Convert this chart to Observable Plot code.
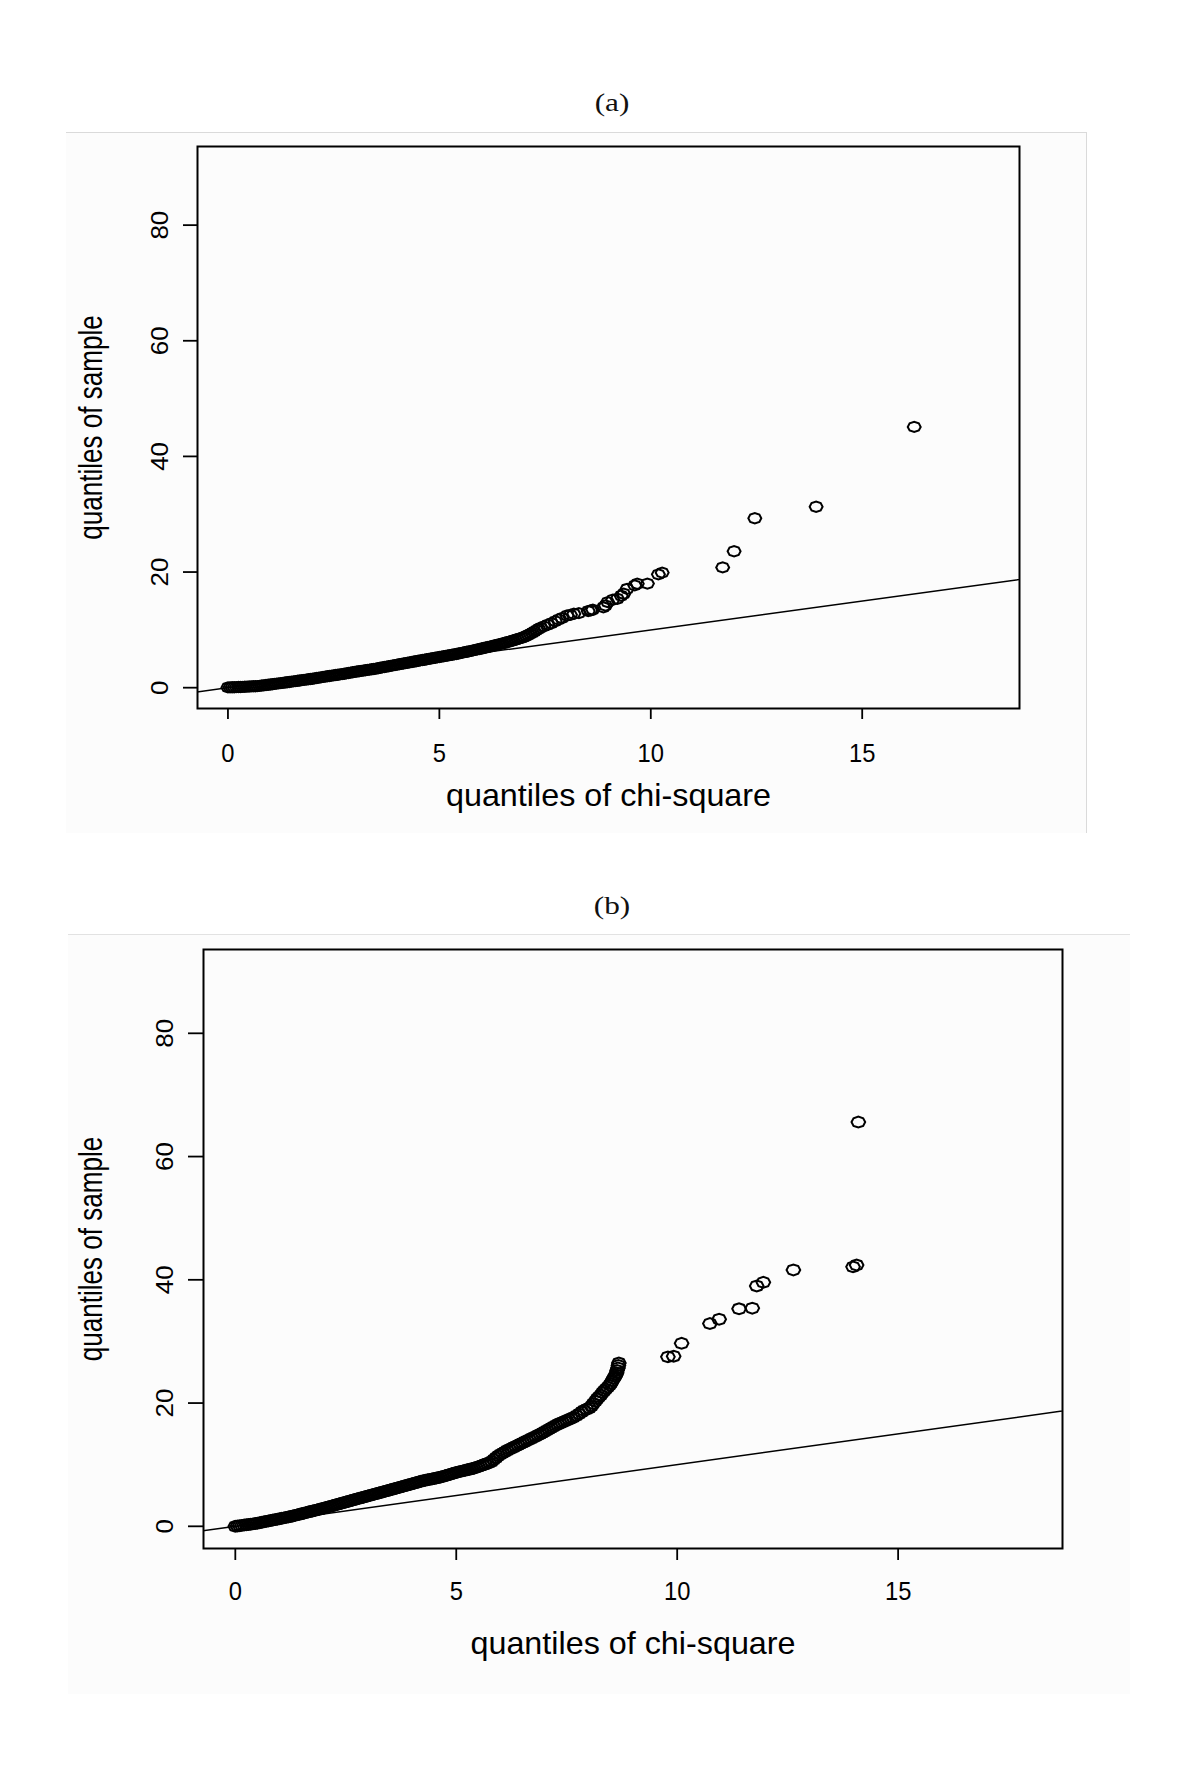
<!DOCTYPE html>
<html><head><meta charset="utf-8">
<script src="https://cdn.jsdelivr.net/npm/d3@7"></script>
<script src="https://cdn.jsdelivr.net/npm/@observablehq/plot@0.6"></script>
<style>
html,body{margin:0;padding:0;background:#fff}
body{width:1200px;height:1789px;position:relative;overflow:hidden}
.frame{position:absolute;background:#fcfcfc;box-sizing:border-box}
.ttl{position:absolute;font-family:"Liberation Serif","Times New Roman",serif;font-size:25px;line-height:25px;color:#111;width:80px;margin-left:-40px;text-align:center;transform:scaleX(1.25)}
.wrap{position:absolute;left:0}
.wrap svg{display:block}
</style></head><body>
<div class="ttl" style="left:612px;top:90px">(a)</div>
<div class="frame" style="left:66px;top:132px;width:1021px;height:701px;border-top:1px solid #dadada;border-right:1px solid #dadada"></div>
<div class="wrap" id="pa" style="top:132px"></div>
<div class="ttl" style="left:612px;top:893px">(b)</div>
<div class="frame" style="left:68px;top:934px;width:1062px;height:760px;border-top:1px solid #e2e2e2"></div>
<div class="wrap" id="pb" style="top:934px"></div>
<script>
// ---------- data ----------
const xTicks = [0, 5, 10, 15];
const yTicks = [0, 20, 40, 60, 80];
const xTitle = "quantiles of chi-square";
const yTitle = "quantiles of sample";
const refLine = [-2, 20]; // reference line y = x

// panel (a)
const aX = [0.00,0.05,0.10,0.15,0.20,0.25,0.30,0.35,0.40,0.45,0.50,0.55,0.60,0.65,0.70,0.75,0.80,0.85,0.90,0.95,
1.00,1.05,1.10,1.15,1.20,1.25,1.30,1.35,1.40,1.45,1.50,1.55,1.60,1.65,1.70,1.75,1.80,1.85,1.90,1.95,
2.00,2.05,2.10,2.15,2.20,2.25,2.30,2.35,2.40,2.45,2.50,2.55,2.60,2.65,2.70,2.75,2.80,2.85,2.90,2.95,
3.00,3.05,3.10,3.15,3.20,3.25,3.30,3.35,3.40,3.45,3.50,3.55,3.60,3.65,3.70,3.75,3.80,3.85,3.90,3.95,
4.00,4.05,4.10,4.15,4.20,4.25,4.30,4.35,4.40,4.45,4.50,4.55,4.60,4.65,4.70,4.75,4.80,4.85,4.90,4.95,
5.00,5.05,5.10,5.15,5.20,5.25,5.30,5.35,5.40,5.45,5.50,5.55,5.60,5.65,5.70,5.75,5.80,5.85,5.90,5.95,
6.00,6.05,6.10,6.15,6.20,6.25,6.30,6.35,6.40,6.45,6.50,6.55,6.60,6.65,6.70,6.75,6.80,6.85,6.90,6.95,
7.00,7.05,7.10,7.15,7.20,7.25,7.30,7.35,7.40,7.47,7.56,7.65,7.74,
7.82,7.90,8.02,8.10,8.18,8.30,8.52,8.58,8.63,8.88,8.93,8.98,9.10,9.21,9.30,9.36,9.44,9.62,9.68,9.92,10.18,10.27,
11.70,11.97,12.46,13.91,16.23];
const aY = [0.05,0.06,0.07,0.08,0.10,0.11,0.12,0.14,0.16,0.18,0.20,0.22,0.24,0.25,0.28,0.32,0.37,0.41,0.46,0.50,
0.55,0.60,0.65,0.70,0.75,0.79,0.84,0.89,0.94,0.99,1.04,1.09,1.14,1.19,1.24,1.30,1.35,1.40,1.45,1.50,
1.55,1.61,1.67,1.73,1.79,1.86,1.91,1.97,2.02,2.08,2.13,2.19,2.24,2.30,2.35,2.41,2.48,2.54,2.60,2.66,
2.73,2.79,2.85,2.90,2.96,3.02,3.07,3.13,3.19,3.24,3.30,3.37,3.44,3.51,3.57,3.64,3.71,3.78,3.85,3.91,
3.98,4.05,4.11,4.18,4.25,4.32,4.38,4.45,4.52,4.58,4.65,4.72,4.78,4.84,4.91,4.98,5.04,5.11,5.17,5.24,
5.30,5.37,5.43,5.50,5.57,5.63,5.70,5.77,5.83,5.91,5.98,6.06,6.14,6.22,6.29,6.37,6.45,6.53,6.62,6.70,
6.78,6.86,6.95,7.03,7.11,7.21,7.30,7.39,7.49,7.58,7.67,7.77,7.86,7.97,8.08,8.19,8.30,8.41,8.52,8.63,
8.74,8.93,9.12,9.31,9.50,9.73,9.95,10.18,10.39,10.60,10.88,11.14,11.50,
11.80,12.05,12.49,12.60,12.78,12.90,13.25,13.36,13.50,13.90,14.22,14.80,15.20,15.38,15.90,16.24,17.10,17.70,17.97,18.00,19.60,19.90,
20.80,23.60,29.30,31.30,45.10];

// panel (b)
const bX = [0.00,0.05,0.10,0.15,0.20,0.25,0.30,0.35,0.40,0.45,0.50,0.55,0.60,0.65,0.70,0.75,0.80,0.85,0.90,0.95,
1.00,1.05,1.10,1.15,1.20,1.25,1.30,1.35,1.40,1.45,1.50,1.55,1.60,1.65,1.70,1.75,1.80,1.85,1.90,1.95,
2.00,2.05,2.10,2.15,2.20,2.25,2.30,2.35,2.40,2.45,2.50,2.55,2.60,2.65,2.70,2.75,2.80,2.85,2.90,2.95,
3.00,3.05,3.10,3.15,3.20,3.25,3.30,3.35,3.40,3.45,3.50,3.55,3.60,3.65,3.70,3.75,3.80,3.85,3.90,3.95,
4.00,4.05,4.10,4.15,4.20,4.25,4.30,4.35,4.40,4.45,4.50,4.55,4.60,4.65,4.70,4.75,4.80,4.85,4.90,4.95,
5.00,5.05,5.10,5.15,5.20,5.25,5.30,5.35,5.40,5.45,5.50,5.55,5.60,5.65,5.70,5.75,5.80,5.85,5.90,5.95,
6.00,6.05,6.10,6.15,6.20,6.25,6.30,6.35,6.40,6.45,6.50,6.55,6.60,6.65,6.70,6.75,6.80,6.85,6.90,6.95,
7.00,7.05,7.10,7.15,7.20,7.25,7.30,7.35,7.40,7.45,7.50,7.55,7.60,7.65,
7.72,7.78,7.84,7.89,7.95,8.01,8.06,8.10,8.15,8.19,8.23,8.27,8.31,8.35,8.39,8.43,8.47,8.50,8.53,8.56,8.59,8.61,8.63,8.64,8.66,8.67,8.68,
9.79,9.92,10.10,10.74,10.95,11.40,11.70,11.80,11.95,12.63,13.98,14.06,14.10];
const bY = [0.00,0.05,0.10,0.15,0.20,0.25,0.30,0.35,0.40,0.45,0.51,0.58,0.65,0.73,0.80,0.87,0.94,1.01,1.09,1.16,
1.23,1.30,1.37,1.45,1.52,1.59,1.68,1.77,1.86,1.95,2.04,2.13,2.22,2.31,2.40,2.49,2.58,2.67,2.76,2.85,
2.94,3.04,3.14,3.24,3.34,3.44,3.54,3.64,3.74,3.84,3.94,4.04,4.14,4.24,4.34,4.44,4.54,4.63,4.73,4.83,
4.93,5.02,5.12,5.22,5.32,5.41,5.51,5.61,5.71,5.80,5.90,6.00,6.10,6.20,6.30,6.40,6.50,6.60,6.70,6.80,
6.90,7.00,7.10,7.20,7.30,7.40,7.47,7.55,7.62,7.69,7.76,7.84,7.91,7.99,8.10,8.20,8.31,8.42,8.52,8.63,
8.74,8.83,8.92,9.00,9.09,9.17,9.26,9.34,9.43,9.56,9.68,9.81,9.94,10.07,10.20,10.32,10.52,10.83,11.13,11.44,
11.67,11.88,12.09,12.30,12.48,12.66,12.83,13.01,13.19,13.37,13.54,13.72,13.90,14.08,14.25,14.43,14.61,14.79,14.96,15.16,
15.36,15.57,15.77,15.97,16.18,16.38,16.56,16.72,16.88,17.04,17.19,17.35,17.51,17.67,
17.95,18.25,18.55,18.80,19.00,19.20,19.50,19.90,20.30,20.70,21.00,21.30,21.70,22.00,22.30,22.60,22.90,23.20,23.60,24.00,24.30,24.60,24.90,25.30,25.70,26.10,26.50,
27.50,27.60,29.70,32.90,33.60,35.30,35.40,39.00,39.60,41.60,42.10,42.40,65.60];

// ---------- drawing ----------
const FONT = '"Liberation Sans", Arial, sans-serif';
// R's open circle (pch 1) as it appears in the stretched bitmap: a small octagon, wider than tall
const ringSymbol = {
  draw(ctx, size) {
    const r = Math.sqrt(size / Math.PI), rx = r * 1.2, ry = r * 0.95, n = 8;
    for (let i = 0; i < n; i++) {
      const a = 2 * Math.PI * i / n, px = rx * Math.cos(a), py = ry * Math.sin(a);
      if (i) ctx.lineTo(px, py); else ctx.moveTo(px, py);
    }
    ctx.closePath();
  }
};

function panel(xs, ys, L) {
  const pts = xs.map((x, i) => ({x, y: ys[i]}));
  return Plot.plot({
    width: 1200, height: L.height,
    marginLeft: L.ml, marginRight: L.mr, marginTop: L.mt, marginBottom: L.mb,
    x: {domain: [-0.72, 18.72]},
    y: {domain: [-3.6, 93.6]},
    style: {background: "transparent", fontFamily: FONT, color: "#000", overflow: "visible"},
    marks: [
      Plot.line(refLine, {x: d => d, y: d => d, stroke: "#000", strokeWidth: 1.5, clip: true}),
      Plot.dot(pts, {x: "x", y: "y", r: L.r, symbol: ringSymbol, stroke: "#000", strokeWidth: 2, fill: "none"}),
      Plot.frame({stroke: "#000", strokeWidth: 2}),
      Plot.axisX({ticks: xTicks, tickSize: L.xts, tickFormat: () => "", label: null, strokeWidth: 1.8}),
      Plot.axisY({ticks: yTicks, tickSize: L.yts, tickFormat: () => "", label: null, strokeWidth: 1.8}),
      Plot.text(xTicks, {x: d => d, frameAnchor: "bottom", dy: L.xtl, lineAnchor: "middle", textAnchor: "middle", text: d => String(d), fontSize: 25, fill: "#000", className: "xtl"}),
      Plot.text(yTicks, {y: d => d, frameAnchor: "left", dx: -L.ytl, rotate: -90, lineAnchor: "middle", textAnchor: "middle", text: d => String(d), fontSize: 26, fill: "#000", className: "ytl"}),
      Plot.text([xTitle], {frameAnchor: "bottom", dy: L.xt, lineAnchor: "middle", textAnchor: "middle", text: d => d, fontSize: 32, fill: "#000", className: "xtt"}),
      Plot.text([yTitle], {frameAnchor: "left", dx: -L.yt, rotate: -90, lineAnchor: "middle", textAnchor: "middle", text: d => d, fontSize: 27, fill: "#000", className: "ytt"})
    ]
  });
}

function squash(svg, cls, sx, sy) {
  svg.querySelectorAll("." + cls + " text").forEach(t => {
    let tr = t.getAttribute("transform");
    if (!tr) {
      const x = +t.getAttribute("x") || 0, y = +t.getAttribute("y") || 0;
      t.removeAttribute("x"); t.removeAttribute("y");
      tr = `translate(${x},${y})`;
    }
    t.setAttribute("transform", tr + ` scale(${sx},${sy})`);
  });
}

function finish(svg) {
  squash(svg, "xtl", 0.95, 1.05);
  squash(svg, "ytl", 1.0, 0.95);
  squash(svg, "xtt", 1.01, 1.0);
  squash(svg, "ytt", 0.965, 1.2);
  return svg;
}

const A = panel(aX, aY, {height: 701, ml: 197, mr: 181, mt: 14, mb: 125, xts: 11, yts: 14, xtl: 45, ytl: 37, xt: 87, yt: 106, r: 5.4});
document.getElementById("pa").appendChild(finish(A));
const B = panel(bX, bY, {height: 766, ml: 203, mr: 138, mt: 15, mb: 152, xts: 12, yts: 15, xtl: 43, ytl: 38, xt: 95, yt: 112, r: 5.7});
document.getElementById("pb").appendChild(finish(B));
</script>
</body></html>
